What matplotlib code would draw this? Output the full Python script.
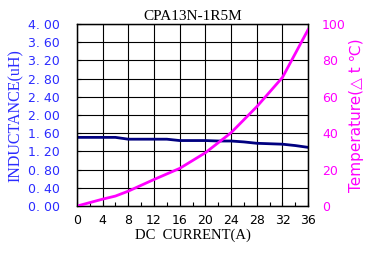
import numpy as np
import matplotlib.pyplot as plt

current = [0, 2, 4, 6, 8, 10, 12, 14, 16, 18, 20, 22, 24, 26, 28, 30, 32, 34, 36]
inductance = [1.51, 1.51, 1.51, 1.51, 1.47, 1.47, 1.47, 1.47, 1.44, 1.44, 1.44, 1.43,
              1.43, 1.41, 1.38, 1.37, 1.36, 1.33, 1.29]
temp_current = [0, 4, 6, 8, 12, 16, 20, 24, 28, 32, 36]
temperature = [0, 3.8, 5.5, 8.2, 14.6, 20.7, 29.3, 40.3, 54.6, 70.7, 97]

fig = plt.figure(figsize=(3.66, 2.56), dpi=100)
ax = fig.add_axes([0.210, 0.195, 0.632, 0.711])
ax.set_xlim(0, 36)
ax.set_ylim(0, 4)
ax.set_xticks(np.arange(0, 37, 4))
ax.set_xticks(np.arange(0, 37, 2), minor=True)
ax.set_yticks(np.arange(0, 4.01, 0.4))
ax.grid(True, color='black', linewidth=0.8)
ax.set_yticklabels([f"{v:.2f}".replace('.', '. ') for v in np.arange(0, 4.01, 0.4)],
                   color='#2b2bff', fontsize=9)
ax.set_xticklabels([str(v) for v in range(0, 37, 4)], fontsize=9)
ax.tick_params(which='both', direction='in', length=3, width=0.8)
ax.tick_params(axis='x', pad=6)
ax.tick_params(axis='y', pad=12)
for s in ax.spines.values():
    s.set_linewidth(1.0)

ax.plot(current, inductance, color='#000080', linewidth=2)
ax.set_ylabel('INDUCTANCE(uH)', color='#2b2bff', family='Liberation Serif', fontsize=11.5, labelpad=3)
ax.set_xlabel('DC  CURRENT(A)', family='Liberation Serif', fontsize=10.5, labelpad=1)
ax.set_title('CPA13N-1R5M', family='Liberation Serif', fontsize=11, pad=3)

ax2 = ax.twinx()
ax2.set_ylim(0, 100)
ax2.set_yticks(np.arange(0, 101, 20))
ax2.tick_params(direction='in', length=0, colors='#ff00ff', labelsize=9, pad=10)
ax2.plot(temp_current, temperature, color='#ff00ff', linewidth=2)
ax2.set_ylabel('Temperature(△ t ℃)', color='#ff00ff', fontsize=11, labelpad=2)

fig.savefig('out.png', dpi=100)
